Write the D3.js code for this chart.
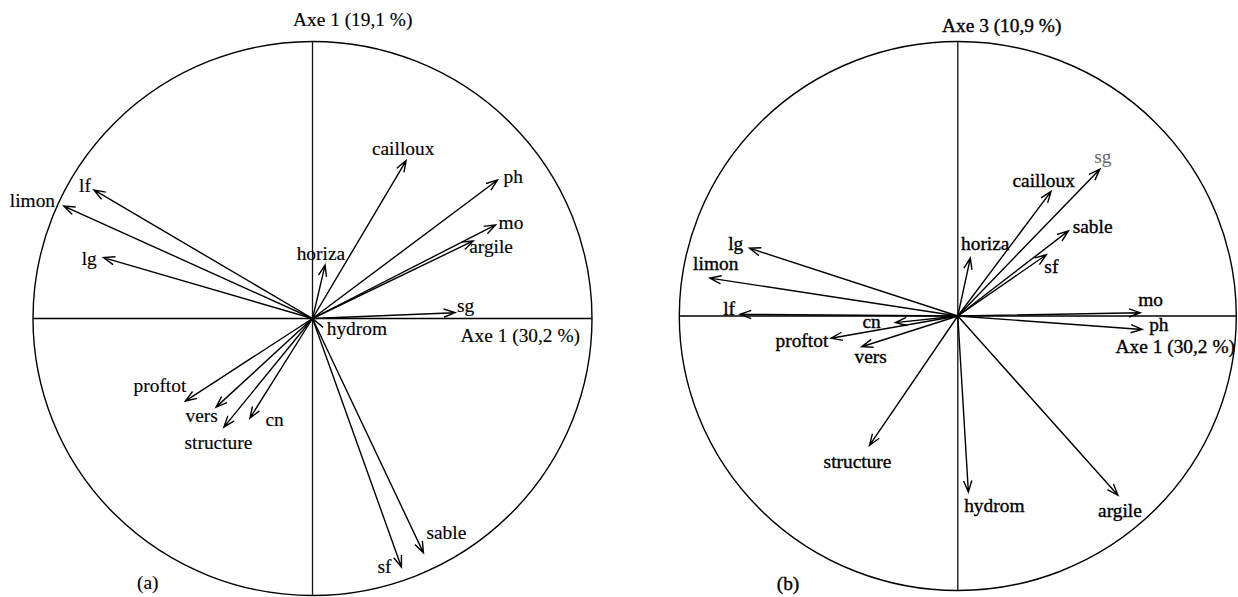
<!DOCTYPE html>
<html>
<head>
<meta charset="utf-8">
<script src="https://cdn.jsdelivr.net/npm/d3@7"></script>
<style>
  html, body { margin: 0; padding: 0; background: #fff; }
  svg { display: block; }
  text { font-family: "Liberation Serif", "Times New Roman", Times, serif; }
</style>
</head>
<body>
<svg id="chart" width="1238" height="597"></svg>
<script>
// ---------- data ----------
const variables = ["cailloux","ph","mo","argile","horiza","sg","lf","limon","lg","hydrom","proftot","vers","structure","cn","sf","sable"];
const axis1 = [0.335, 0.662, 0.655, 0.575, 0.045, 0.51, -0.782, -0.89, -0.748, 0.038, -0.455, -0.345, -0.317, -0.224, 0.318, 0.397];
const axis2 = [0.57, 0.50, 0.338, 0.28, 0.193, 0.021, 0.464, 0.406, 0.22, -0.032, -0.298, -0.32, -0.392, -0.36, -0.897, -0.846];
const axis3 = [0.454, -0.049, 0.012, -0.653, 0.211, 0.535, 0.006, 0.138, 0.247, -0.641, -0.081, -0.112, -0.471, -0.024, 0.223, 0.310];
const panelTitles = ["Axe 1 (19,1 %)", "Axe 3 (10,9 %)"];
const horizTitles = ["Axe 1 (30,2 %)", "Axe 1 (30,2 %)"];
const panelTags = ["(a)", "(b)"];

// ---------- layout (label offsets from arrow tips: dx, dy, anchor) ----------
const layoutA = {
  cailloux: [-3, -6, "middle"], ph: [6, 3, "start"], mo: [3, 4, "start"], argile: [-4, 12, "start"],
  horiza: [-28.4, -5, "start"], sg: [2, -1, "start"], lf: [-3, 2, "end"], limon: [-8.7, 1, "end"],
  lg: [-6.7, 7, "end"], hydrom: [3.6, 7.6, "start"], proftot: [1, -9, "end"], vers: [1.7, 14.6, "end"],
  structure: [-5.5, 22, "middle"], cn: [15.6, 7.5, "start"], sf: [-10, 6.5, "end"], sable: [3, -13.6, "start"]
};
const layoutB = {
  sg: [3, -6, "middle"], cailloux: [-7.4, -4.7, "middle"], sable: [4.3, 1.8, "start"], sf: [-2, 18.5, "start"],
  horiza: [-9.3, -8, "start"], mo: [-2, -7, "start"], ph: [7, 2, "start"], lg: [-6.2, 1.8, "end"],
  limon: [5.8, -8, "middle"], lf: [-5, 0.7, "end"], cn: [-14.7, 5.7, "end"], proftot: [-2.8, 9, "end"],
  vers: [9, 16.6, "middle"], structure: [-12, 23, "middle"], hydrom: [-4.2, 20.3, "start"], argile: [2, 21.5, "middle"]
};

const panels = [
  { cx: 312.5, cy: 318.5, rx: 279.5, ry: 277, xs: axis1, ys: axis2, layout: layoutA,
    title: panelTitles[0], titleDx: -19.5, titleY: 26, hTitle: horizTitles[0], hEndDx: -12, hDy: 23.5,
    tag: panelTags[0], tagX: 147.7, tagY: 589, grey: [], weight: 0.15 },
  { cx: 957.8, cy: 316, rx: 278.5, ry: 274.5, xs: axis1, ys: axis3, layout: layoutB,
    title: panelTitles[1], titleDx: -15.8, titleY: 31.5, hTitle: horizTitles[1], hEndDx: -1.3, hDy: 37.3,
    tag: panelTags[1], tagX: 788, tagY: 590, grey: ["sg"], weight: 0.35 }
];

const FONT = 19, SX = 1.02;
const svg = d3.select("#chart");

function label(g, x, y, txt, anchor, color, sw) {
  g.append("text")
    .attr("transform", `translate(${x},${y}) scale(${SX},1)`)
    .attr("text-anchor", anchor)
    .attr("font-size", FONT)
    .style("fill", color || "#000")
    .style("stroke", color || "#000")
    .style("stroke-width", sw)
    .text(txt);
}

panels.forEach(p => {
  const x = d3.scaleLinear().domain([-1, 1]).range([p.cx - p.rx, p.cx + p.rx]);
  const y = d3.scaleLinear().domain([-1, 1]).range([p.cy + p.ry, p.cy - p.ry]);
  const g = svg.append("g");

  g.append("ellipse")
    .attr("cx", x(0)).attr("cy", y(0))
    .attr("rx", x(1) - x(0)).attr("ry", y(-1) - y(0))
    .attr("fill", "none").attr("stroke", "#000").attr("stroke-width", 1.4);

  g.append("line").attr("x1", x(-1)).attr("x2", x(1)).attr("y1", y(0)).attr("y2", y(0))
    .attr("stroke", "#000").attr("stroke-width", 1.3);
  g.append("line").attr("x1", x(0)).attr("x2", x(0)).attr("y1", y(1)).attr("y2", y(-1))
    .attr("stroke", "#111").attr("stroke-width", 1.3);

  const data = variables.map((v, i) => ({ name: v, vx: p.xs[i], vy: p.ys[i] }));

  data.forEach(d => {
    const x0 = x(0), y0 = y(0), x1 = x(d.vx), y1 = y(d.vy);
    const ang = Math.atan2(y1 - y0, x1 - x0);
    const len = Math.hypot(x1 - x0, y1 - y0);
    const hl = 12, ha = 20 * Math.PI / 180;
    const path = d3.path();
    path.moveTo(x0, y0); path.lineTo(x1, y1);
    if (len > 20) {
      path.moveTo(x1 - hl * Math.cos(ang - ha), y1 - hl * Math.sin(ang - ha));
      path.lineTo(x1, y1);
      path.lineTo(x1 - hl * Math.cos(ang + ha), y1 - hl * Math.sin(ang + ha));
    }
    g.append("path").attr("d", path.toString())
      .attr("fill", "none").attr("stroke", "#000").attr("stroke-width", 1.4)
      .attr("stroke-linejoin", "miter");

    const lo = p.layout[d.name];
    label(g, x1 + lo[0], y1 + lo[1], d.name, lo[2], p.grey.includes(d.name) ? "#666" : "#000", p.grey.includes(d.name) ? 0 : p.weight);
  });

  label(g, x(0) + p.titleDx, p.titleY, p.title, "start", "#000", p.weight);
  label(g, x(1) + p.hEndDx, y(0) + p.hDy, p.hTitle, "end", "#000", p.weight);
  label(g, p.tagX, p.tagY, p.tag, "middle", "#000", p.weight);
});
</script>
</body>
</html>
